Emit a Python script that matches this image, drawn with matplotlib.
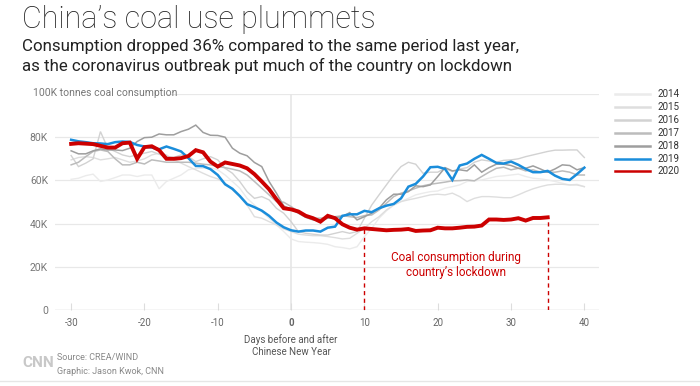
import numpy as np
import matplotlib
matplotlib.use('Agg')
from matplotlib import pyplot as plt

plt.rcParams['font.family'] = ['Roboto', 'DejaVu Sans']

# 春节前后天数
days = list(range(-30, 41))
days_2020 = list(range(-30, 36))

# 单位: 千吨（图中 K）
y2014 = [60.5, 61, 62.2, 62.9, 59.5, 60.2, 61.3, 62.5, 62.5, 61.8, 62.5, 62.5, 56.1, 59.5, 61, 62.5,
         64.9, 65.6, 65.6, 65.9, 64.9, 62.5, 59.5, 56.4, 51.7, 48.6, 45.6, 42.5, 39.4, 36.3, 32.9,
         31.7, 31.4, 31.2, 30.9, 30.4, 29.3, 28.9, 28.3, 29.3, 34, 37.8, 42.5, 45.9, 48.6, 50.2,
         51.7, 53.3, 54.1, 54.8, 55.1, 56.4, 57.1, 57.9, 59.5, 59.8, 60.2, 61, 61.8, 62.1, 62.5,
         62.9, 61.8, 61, 60.7, 60.2, 59.5, 58.7, 57.9, 58.2, 57.1]
y2015 = [69.5, 70.6, 71, 70.6, 69.5, 70, 70.6, 69.5, 68.4, 69, 70, 71.8, 72.6, 71.8, 69.5, 68,
         66.4, 64.9, 63.3, 61.8, 60.7, 58.7, 55.6, 52.5, 48.6, 43.2, 42.5, 40.9, 39.4, 37.5, 36.3,
         35.1, 34.7, 34.4, 34.4, 34, 33.5, 32.9, 33.2, 35.5, 37.8, 40.9, 43.2, 46.3, 48.6, 50.2,
         51, 51.7, 52.5, 53.3, 53.6, 53.3, 54.1, 52.5, 50.2, 51.7, 52.5, 52.5, 52.3, 52, 52,
         53.3, 54.8, 56.1, 57.1, 57.9, 58.2, 58.2, 57.9, 57.9, 57.1]
y2016 = [71.5, 66.4, 68, 70, 82.6, 74.9, 73.4, 71.8, 71, 71.8, 72.6, 73.4, 72.1, 71, 70.6, 71.8,
         71, 68.7, 70, 71, 69.5, 65.6, 63.3, 59.5, 54.8, 51.7, 52.5, 51, 47.1, 44.8, 40.9,
         36.3, 35.5, 35.1, 34.7, 34.7, 35.5, 36.3, 35.5, 36.3, 42.5, 48.6, 53.3, 57.9, 62.5, 66.4,
         68.4, 67.5, 63.3, 63.8, 63.8, 65.6, 64.1, 65.3, 65.9, 68.4, 69.5, 69, 68.4, 69.3, 69.5,
         70, 71, 71.8, 72.6, 73.4, 74, 74, 74.1, 74.1, 70.6]
y2017 = [67.2, 68.4, 71, 73.4, 74.1, 73.4, 70, 67.2, 67.2, 68.4, 67.6, 69.5, 69, 68.4, 68.4, 68.4,
         68.4, 68, 67.5, 67.2, 66.4, 65.9, 65.2, 64.4, 62.5, 59.5, 56.4, 53.3, 50.2, 49.9, 47.9,
         45.6, 43.7, 42.5, 42.5, 42.8, 43.2, 43.7, 43.2, 42.8, 43.7, 44, 46.3, 49.4, 52.5, 54.1,
         55.1, 56.4, 57.5, 58.2, 58.7, 59.2, 59.8, 59.9, 60.2, 59.8, 61.8, 63.8, 65.6, 66.1, 64.9,
         65.6, 64.4, 64.9, 63.8, 63.8, 63.8, 64.4, 63.8, 62.5, 62.5]
y2018 = [73.7, 72.3, 72.3, 73.7, 74.6, 74.1, 74.1, 73.8, 74.9, 78, 79.8, 80, 81.5, 81.1, 81.1, 82.6,
         83.7, 85.6, 82.2, 80.9, 80.8, 80, 74.9, 72.6, 71.4, 68.3, 66.4, 59.5, 54.1, 48.2, 46.6,
         44.8, 42.9, 41.7, 41.7, 42.5, 42.8, 43.2, 45.1, 41.7, 43.2, 44.8, 47.1, 51, 53.6, 53.6,
         54.8, 57.5, 57.1, 57.9, 61.8, 65.9, 64.4, 64.9, 64.4, 67.2, 63.8, 65.9, 67.5, 67.5, 66.9,
         65.6, 65.6, 66.7, 65.3, 63.8, 65.3, 67.2, 66.9, 64.9, 65.9]
y2019 = [78.8, 78.1, 77.7, 77.2, 77.1, 76.8, 77.7, 78, 77.8, 76.4, 75.7, 75.2, 74.4, 75.7, 74.6, 73.4,
         70.3, 66.7, 66.6, 65.2, 62.5, 58.2, 56.1, 52.8, 49, 47.6, 46, 43.6, 40.5, 38.3, 36.9,
         36.3, 36.8, 36.8, 36.3, 38.1, 38.6, 43.6, 44.3, 44.3, 45.9, 45.3, 47.1, 48.3, 49.1, 51.7,
         57.1, 58.4, 61.8, 66.1, 66.3, 65.3, 60.2, 66.9, 67.8, 70, 71.8, 70, 68.1, 67.8, 68.7,
         67.2, 65.3, 63.8, 63.8, 64.4, 62.2, 60.7, 60.2, 62.9, 65.9]
y2020 = [76.9, 77.2, 77, 76.8, 76, 75.2, 75.2, 77.2, 77.5, 70, 75.4, 75.8, 74, 70, 70, 70.3,
         71.3, 74, 73, 68.7, 66.4, 68.3, 67.6, 66.9, 65.6, 62.9, 59.5, 55.9, 51.3, 47.1, 46.6,
         45.6, 43.6, 42.5, 40.9, 43.6, 42.5, 39.7, 38.1, 37.2, 37.8, 37.5, 37.2, 36.9, 37.1, 37.2,
         37.5, 36.6, 36.8, 36.9, 38.1, 37.8, 37.8, 38.1, 38.5, 38.6, 39.1, 41.9, 41.9, 41.7, 41.9,
         42.5, 41.4, 42.6, 42.6, 42.9]

years = ['2014', '2015', '2016', '2017', '2018', '2019', '2020']
colors = ['#ebebeb', '#dedede', '#d2d2d2', '#bcbcbc', '#9e9e9e', '#1a8ddb', '#cc0000']
widths = [1.0, 1.0, 1.0, 1.1, 1.1, 1.8, 2.8]
series = [y2014, y2015, y2016, y2017, y2018, y2019, y2020]

W, H = 700, 386
fig = plt.figure(figsize=(7, 3.86), dpi=100)
ax = fig.add_axes([55 / W, 1 - 310 / H, 544 / W, 216 / H])

for yr, ys, c, lw in zip(years, series, colors, widths):
    xs = days_2020 if yr == '2020' else days
    ax.plot(xs, ys, color=c, lw=lw, solid_joinstyle='miter', zorder=3)

ax.set_xlim(-32.2, 42)
ax.set_ylim(0, 100)

# 网格
for v in [20, 40, 60, 80]:
    ax.axhline(v, color='#e8e8e8', lw=0.9, zorder=1)
ax.axhline(100, xmin=0.205, color='#e8e8e8', lw=0.9, zorder=1)
ax.axhline(0, color='#d0d0d0', lw=1.0, zorder=2)
ax.axvline(0, color='#e6e6e6', lw=1.2, zorder=1)

for s in ax.spines.values():
    s.set_visible(False)

ax.set_xticks(range(-30, 41, 10))
ax.set_xticklabels([str(t) for t in range(-30, 41, 10)], fontsize=7, color='#666666')
for lab in ax.get_xticklabels():
    if lab.get_text() == '0':
        lab.set_fontweight('bold')
ax.tick_params(axis='x', direction='in', length=5, color='#dddddd', pad=6)
ax.set_yticks([0, 20, 40, 60, 80])
ax.set_yticklabels(['0', '20K', '40K', '60K', '80K'], fontsize=7.5, color='#777777')
ax.tick_params(axis='y', length=0, pad=5)

fig.text(33 / W, 1 - 93 / H, '100K tonnes coal consumption', fontsize=7.5, color='#777777',
         va='center', ha='left')

# 封城期间标注
for d in [10, 35]:
    ax.plot([d, d], [0, y2020[days_2020.index(d)]], color='#cc0000', lw=1, ls=(0, (3, 2.5)), zorder=2)
ax.text(22.5, 20.8, 'Coal consumption during\ncountry\u2019s lockdown', color='#cc0000', fontsize=8.5,
        ha='center', va='center', linespacing=1.15)

ax.text(0, -11, 'Days before and after\nChinese New Year', fontsize=7, color='#555555',
        ha='center', va='top', linespacing=1.3)

# 图例
for i, (yr, c) in enumerate(zip(years, colors)):
    py = 94 + i * 12.9
    fig.add_artist(plt.Line2D([615 / W, 650 / W], [1 - py / H, 1 - py / H], color=c, lw=1.8))
    fig.text(657 / W, 1 - py / H, yr, fontsize=7, color='#333333', va='center', ha='left')

# 标题
fig.text(22 / W, 1 - 20 / H, 'China\u2019s coal use plummets', fontsize=22, fontweight='light',
         color='#222222', va='center', ha='left')
fig.text(22 / W, 1 - 47 / H, 'Consumption dropped 36% compared to the same period last year,',
         fontsize=12.2, color='#222222', va='center', ha='left')
fig.text(22 / W, 1 - 66 / H, 'as the coronavirus outbreak put much of the country on lockdown',
         fontsize=12.2, color='#222222', va='center', ha='left')

# 页脚
fig.text(22 / W, 1 - 363 / H, 'CNN', fontsize=11, fontweight='bold', color='#c8c8c8',
         va='center', ha='left')
fig.text(57 / W, 1 - 357 / H, 'Source: CREA/WIND', fontsize=6.5, color='#888888', va='center', ha='left')
fig.text(57 / W, 1 - 371 / H, 'Graphic: Jason Kwok, CNN', fontsize=6.5, color='#888888', va='center', ha='left')
fig.add_artist(plt.Line2D([0, 1], [1 - 381 / H, 1 - 381 / H], color='#e6e6e6', lw=1))

fig.savefig('out.png', dpi=100)
